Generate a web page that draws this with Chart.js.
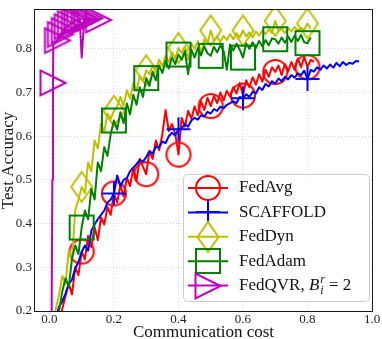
<!DOCTYPE html>
<html>
<head>
<meta charset="utf-8">
<script src="https://cdn.jsdelivr.net/npm/chart.js@4.4.0/dist/chart.umd.min.js"></script>
<style>
  html, body { margin: 0; padding: 0; background: #fff; }
</style>
</head>
<body>
<canvas id="chart" width="382" height="339"></canvas>
<script>
// accuracy per round (one round = 0.01 comm. cost)
const roundCost = 0.01;

const fedAvg = [
  0.100, 0.125, 0.140, 0.175, 0.205, 0.235, 0.262, 0.238, 0.300, 0.282,
  0.336, 0.318, 0.372, 0.346, 0.392, 0.362, 0.414, 0.398, 0.438, 0.420,
  0.469, 0.448, 0.488, 0.462, 0.505, 0.486, 0.528, 0.498, 0.548, 0.530,
  0.513, 0.566, 0.548, 0.590, 0.568, 0.604, 0.660, 0.612, 0.628, 0.606,
  0.558, 0.642, 0.622, 0.658, 0.640, 0.668, 0.648, 0.680, 0.660, 0.688,
  0.669, 0.692, 0.676, 0.700, 0.682, 0.704, 0.690, 0.712, 0.698, 0.722,
  0.693, 0.728, 0.712, 0.735, 0.718, 0.742, 0.725, 0.752, 0.736, 0.758,
  0.747, 0.762, 0.740, 0.765, 0.748, 0.770, 0.752, 0.778, 0.758, 0.782,
  0.758, 0.775, 0.770
];

const scaffold = [
  0.120, 0.150, 0.185, 0.210, 0.222, 0.240, 0.262, 0.272, 0.298, 0.312,
  0.335, 0.350, 0.338, 0.384, 0.398, 0.410, 0.420, 0.430, 0.448, 0.455,
  0.469, 0.510, 0.486, 0.500, 0.504, 0.520, 0.528, 0.536, 0.546, 0.542,
  0.552, 0.566, 0.560, 0.576, 0.574, 0.588, 0.584, 0.600, 0.608, 0.602,
  0.616, 0.618, 0.628, 0.622, 0.636, 0.642, 0.638, 0.648, 0.645, 0.656,
  0.652, 0.662, 0.658, 0.668, 0.664, 0.672, 0.676, 0.680, 0.676, 0.690,
  0.687, 0.696, 0.690, 0.702, 0.698, 0.712, 0.706, 0.720, 0.714, 0.726,
  0.720, 0.732, 0.726, 0.736, 0.730, 0.740, 0.734, 0.744, 0.740, 0.750,
  0.731, 0.752, 0.748, 0.758, 0.752, 0.762, 0.755, 0.764, 0.757, 0.768,
  0.760, 0.770, 0.763, 0.768, 0.766, 0.772, 0.771
];

const fedDyn = [
  0.100, 0.145, 0.205, 0.238, 0.280, 0.262, 0.340, 0.318, 0.430, 0.455,
  0.484, 0.470, 0.540, 0.520, 0.590, 0.572, 0.628, 0.610, 0.652, 0.640,
  0.658, 0.668, 0.690, 0.670, 0.705, 0.686, 0.722, 0.704, 0.738, 0.725,
  0.751, 0.742, 0.762, 0.748, 0.775, 0.760, 0.784, 0.770, 0.792, 0.778,
  0.802, 0.790, 0.806, 0.775, 0.812, 0.800, 0.818, 0.790, 0.822, 0.812,
  0.842, 0.818, 0.828, 0.816, 0.830, 0.820, 0.834, 0.822, 0.836, 0.826,
  0.842, 0.828, 0.838, 0.826, 0.840, 0.830, 0.842, 0.834, 0.844, 0.836,
  0.864, 0.840, 0.846, 0.836, 0.848, 0.840, 0.850, 0.842, 0.848, 0.844,
  0.858, 0.846
];

const fedAdam = [
  0.100, 0.120, 0.160, 0.200, 0.245, 0.275, 0.255, 0.320, 0.350, 0.330,
  0.391, 0.430, 0.410, 0.480, 0.455, 0.540, 0.520, 0.575, 0.555, 0.605,
  0.636, 0.615, 0.655, 0.630, 0.675, 0.650, 0.695, 0.672, 0.712, 0.690,
  0.733, 0.715, 0.748, 0.728, 0.762, 0.745, 0.772, 0.755, 0.780, 0.765,
  0.787, 0.775, 0.795, 0.742, 0.798, 0.780, 0.802, 0.785, 0.806, 0.790,
  0.784, 0.805, 0.792, 0.808, 0.795, 0.752, 0.810, 0.796, 0.812, 0.798,
  0.780, 0.812, 0.800, 0.815, 0.802, 0.818, 0.806, 0.820, 0.808, 0.824,
  0.822, 0.812, 0.826, 0.814, 0.828, 0.816, 0.830, 0.818, 0.832, 0.815,
  0.813, 0.826
];

// FedQVR: irregular cost axis
const qvrCost = [
  0.006, 0.009, 0.011, 0.012, 0.025, 0.030, 0.034, 0.040, 0.046, 0.050,
  0.055, 0.060, 0.065, 0.071, 0.077, 0.081, 0.085, 0.090, 0.094, 0.100,
  0.108, 0.112, 0.116, 0.121, 0.126, 0.138, 0.152
];
const qvrAcc = [
  0.050, 0.500, 0.722, 0.810, 0.819, 0.826, 0.833, 0.838, 0.842, 0.847,
  0.851, 0.853, 0.858, 0.860, 0.863, 0.864, 0.866, 0.862, 0.868, 0.780,
  0.869, 0.866, 0.868, 0.864, 0.870, 0.866, 0.866
];

const xTicks = [0.0, 0.2, 0.4, 0.6, 0.8, 1.0];
const yTicks = [0.2, 0.3, 0.4, 0.5, 0.6, 0.7, 0.8];

const names = ['FedAvg', 'SCAFFOLD', 'FedDyn', 'FedAdam', 'FedQVR, '];
const colors = ['#ff0000', '#0000ff', '#bfbf00', '#008000', '#bf00bf'];
const shapes = ['o', '+', 'd', 's', '>'];
const markEvery = [10, 20, 10, 10, 2];

// hollow matplotlib-like markers
function marker(shape, color) {
  const c = document.createElement('canvas');
  c.width = 34; c.height = 34;
  const g = c.getContext('2d');
  const m = 17;
  g.strokeStyle = color;
  g.lineWidth = 2;
  g.lineJoin = 'miter';
  g.beginPath();
  if (shape === 'o') {
    g.arc(m, m, 12, 0, Math.PI * 2);
  } else if (shape === '+') {
    g.moveTo(m - 12, m); g.lineTo(m + 12, m);
    g.moveTo(m, m - 12); g.lineTo(m, m + 12);
  } else if (shape === 'd') {
    g.moveTo(m, m - 15); g.lineTo(m + 10.5, m); g.lineTo(m, m + 15); g.lineTo(m - 10.5, m);
    g.closePath();
  } else if (shape === 's') {
    g.rect(m - 12, m - 12, 24, 24);
  } else {
    g.moveTo(m + 12.5, m); g.lineTo(m - 12.5, m - 12.5); g.lineTo(m - 12.5, m + 12.5);
    g.closePath();
  }
  g.stroke();
  return c;
}
const markers = shapes.map((s, i) => marker(s, colors[i]));

function byRound(vals) {
  return vals.map((v, i) => ({ x: i * roundCost, y: v }));
}
const seriesData = [
  byRound(fedAvg),
  byRound(scaffold),
  byRound(fedDyn),
  byRound(fedAdam),
  qvrCost.map((x, i) => ({ x: x, y: qvrAcc[i] }))
];

const datasets = seriesData.map((d, k) => ({
  label: names[k],
  data: d,
  borderColor: colors[k],
  borderWidth: 2,
  borderJoinStyle: 'round',
  tension: 0,
  fill: false,
  pointStyle: markers[k],
  pointRadius: ctx => (ctx.dataIndex % markEvery[k] === 0 ? 8 : 0),
  pointHitRadius: 0,
  order: 5 - k
}));

// axes frame
const framePlugin = {
  id: 'frame',
  afterDatasetsDraw(chart) {
    const a = chart.chartArea, g = chart.ctx;
    g.save();
    g.strokeStyle = '#1a1a1a';
    g.lineWidth = 1;
    g.strokeRect(a.left - 0.5, a.top - 0.5, a.right - a.left + 1, a.bottom - a.top + 1);
    g.restore();
  }
};

// legend drawn like matplotlib: line + marker, math label for FedQVR
const legendPlugin = {
  id: 'mplLegend',
  afterDraw(chart) {
    const g = chart.ctx;
    g.save();
    const bx = 183.5, by = 174.5, bw = 186, bh = 127, r = 4;
    g.beginPath();
    g.moveTo(bx + r, by);
    g.arcTo(bx + bw, by, bx + bw, by + bh, r);
    g.arcTo(bx + bw, by + bh, bx, by + bh, r);
    g.arcTo(bx, by + bh, bx, by, r);
    g.arcTo(bx, by, bx + bw, by, r);
    g.closePath();
    g.fillStyle = 'rgba(255,255,255,0.8)';
    g.fill();
    g.strokeStyle = '#cccccc';
    g.lineWidth = 1;
    g.stroke();

    g.textBaseline = 'middle';
    g.fillStyle = '#111';
    names.forEach((n, i) => {
      const y = 188 + i * 24.4;
      g.strokeStyle = colors[i];
      g.lineWidth = 2;
      g.beginPath();
      g.moveTo(188, y); g.lineTo(228, y);
      g.stroke();
      g.drawImage(markers[i], 208 - 17, Math.round(y) - 17);
      g.font = "17px 'Liberation Serif', serif";
      g.fillText(n, 239, y);
      if (i === 4) {
        let x = 239 + g.measureText(n).width;
        g.font = "italic 17px 'Liberation Serif', serif";
        g.fillText('B', x, y);
        x += g.measureText('B').width + 1;
        g.font = "italic 12px 'Liberation Serif', serif";
        g.fillText('r', x, y - 6);
        g.fillText('i', x, y + 5);
        x += g.measureText('r').width + 4;
        g.font = "17px 'Liberation Serif', serif";
        g.fillText('= 2', x, y);
      }
    });
    g.restore();
  }
};

Chart.defaults.font.family = "'Liberation Serif', serif";
Chart.defaults.color = '#222';

new Chart(document.getElementById('chart'), {
  type: 'line',
  data: { datasets: datasets },
  options: {
    responsive: false,
    animation: false,
    events: [],
    layout: { padding: { left: 0, right: 8, top: 1, bottom: 0 } },
    plugins: { legend: { display: false }, tooltip: { enabled: false } },
    scales: {
      x: {
        type: 'linear',
        min: -0.0447,
        max: 1.0,
        afterBuildTicks: a => { a.ticks = xTicks.map(v => ({ value: v })); },
        afterFit: a => { a.height = 28; a.paddingLeft = 0; a.paddingRight = 0; },
        grid: { color: '#cfcfcf', lineWidth: 0.8, drawTicks: false },
        border: { display: false, dash: [1, 2] },
        ticks: { font: { size: 13 }, padding: 1, maxRotation: 0, autoSkip: false,
                 callback: v => v.toFixed(1) },
        title: { display: true, text: 'Communication cost', color: '#111',
                 font: { size: 17, lineHeight: 1 }, padding: { top: 0, bottom: -2 } }
      },
      y: {
        min: 0.2,
        max: 0.8889,
        afterBuildTicks: a => { a.ticks = yTicks.map(v => ({ value: v })); },
        afterFit: a => { a.width = 35; a.paddingTop = 0; a.paddingBottom = 0; },
        grid: { color: '#cfcfcf', lineWidth: 0.8, drawTicks: false },
        border: { display: false, dash: [1, 2] },
        ticks: { font: { size: 13 }, padding: 3, callback: v => v.toFixed(1) },
        title: { display: true, text: 'Test Accuracy', color: '#111',
                 font: { size: 17, lineHeight: 1 }, padding: { top: 0, bottom: 0 } }
      }
    }
  },
  plugins: [framePlugin, legendPlugin]
});
</script>
</body>
</html>
